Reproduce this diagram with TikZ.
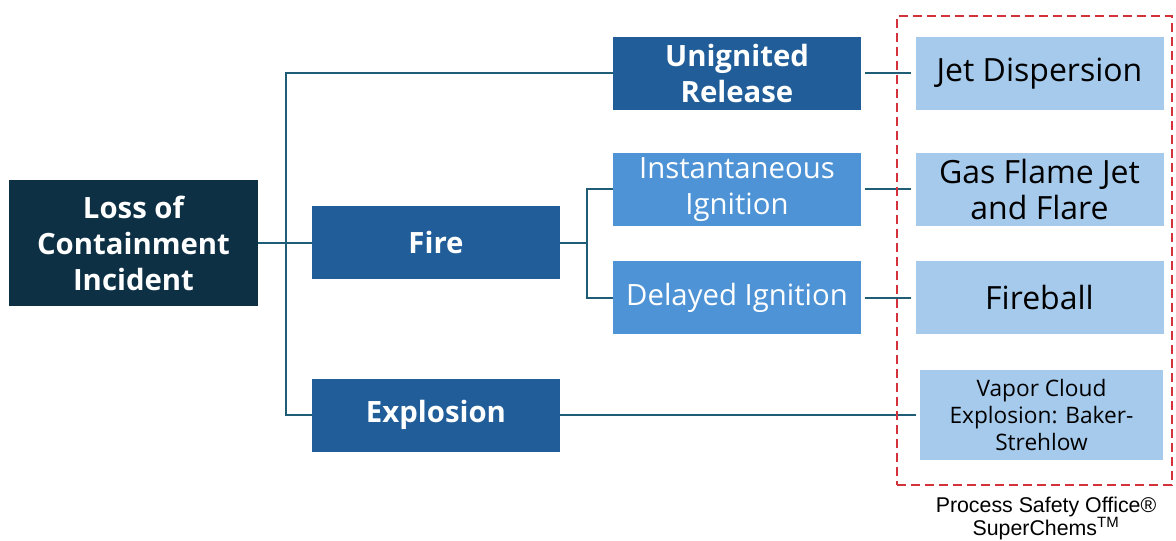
\documentclass[tikz,border=0pt]{standalone}
\usepackage{fontspec}
\setmainfont{Open Sans}
\newfontfamily\capfont{Liberation Sans}
\definecolor{navy}{HTML}{0E3044}
\definecolor{midblue}{HTML}{215E99}
\definecolor{ltblue}{HTML}{4E93D5}
\definecolor{paleblue}{HTML}{A6CAEC}
\definecolor{linecol}{HTML}{1F5C75}
\definecolor{redline}{HTML}{D4323A}
\begin{document}
\begin{tikzpicture}[x=0.75pt, y=-0.75pt,
  box/.style={inner sep=2pt, align=center, minimum width=186pt, minimum height=54.75pt},
  top/.style={box, fill=navy, text=white, font=\fontsize{22}{27}\selectfont\bfseries},
  lvl/.style={box, fill=midblue, text=white, font=\fontsize{22}{27}\selectfont\bfseries},
  sub/.style={box, fill=ltblue, text=white, font=\fontsize{22}{27}\selectfont},
  model/.style={box, fill=paleblue, text=black, font=\fontsize{24}{26.5}\selectfont},
  conn/.style={draw=linecol, line width=1.5pt}]
\useasboundingbox (0,0) rectangle (1176,541);
% Kästen
\node[top, minimum width=186.75pt, minimum height=93.75pt] (loss) at (133.5,243) {Loss of\\Containment\\Incident};
\node[lvl] (unign) at (737,73.5) {Unignited\\Release};
\node[lvl] (fire) at (436,243) {Fire};
\node[lvl] (explo) at (436,415) {Explosion};
\node[sub] (inst) at (737,189.5) {Instantaneous\\Ignition};
\node[sub] (delay) at (737,297.5) {Delayed Ignition};
\node[model] (jet) at (1039.5,73.5) {Jet Dispersion};
\node[model] (flare) at (1039.5,189.5) {Gas Flame Jet\\and Flare};
\node[model] (ball) at (1039.5,297.5) {Fireball};
\node[model, minimum width=182pt, minimum height=67.5pt, font=\fontsize{17}{20.25}\selectfont] (vce) at (1041.5,415) {Vapor Cloud\\Explosion: Baker-\\Strehlow};
% Verbindungen
\coordinate (trunk) at (286,243);
\coordinate (fbr) at (587,243);
\draw[conn] (unign.west) -| (trunk) |- (explo.west);
\draw[conn] (loss.east) -- (fire.west);
\draw[conn] (inst.west) -| (fbr) |- (delay.west);
\draw[conn] (fire.east) -- (fbr);
\draw[conn, shorten <=3pt, shorten >=3pt] (unign.east) -- (jet.west);
\draw[conn, shorten <=3pt, shorten >=3pt] (inst.east) -- (flare.west);
\draw[conn, shorten <=3pt, shorten >=3pt] (delay.east) -- (ball.west);
\draw[conn, shorten >=3pt] (explo.east) -- (vce.west);
% SuperChems-Rahmen
\node[draw=redline, line width=1.5pt, dash pattern=on 6.75pt off 3.75pt, inner sep=0pt, minimum width=206.25pt, minimum height=351.75pt] (frame) at (1034.5,250.5) {};
\node[font=\capfont\fontsize{16}{17.5}\selectfont, align=center, anchor=north] (cap) at (1046,492) {Process Safety Office®\\SuperChems\textsuperscript{TM}};
\end{tikzpicture}
\end{document}
